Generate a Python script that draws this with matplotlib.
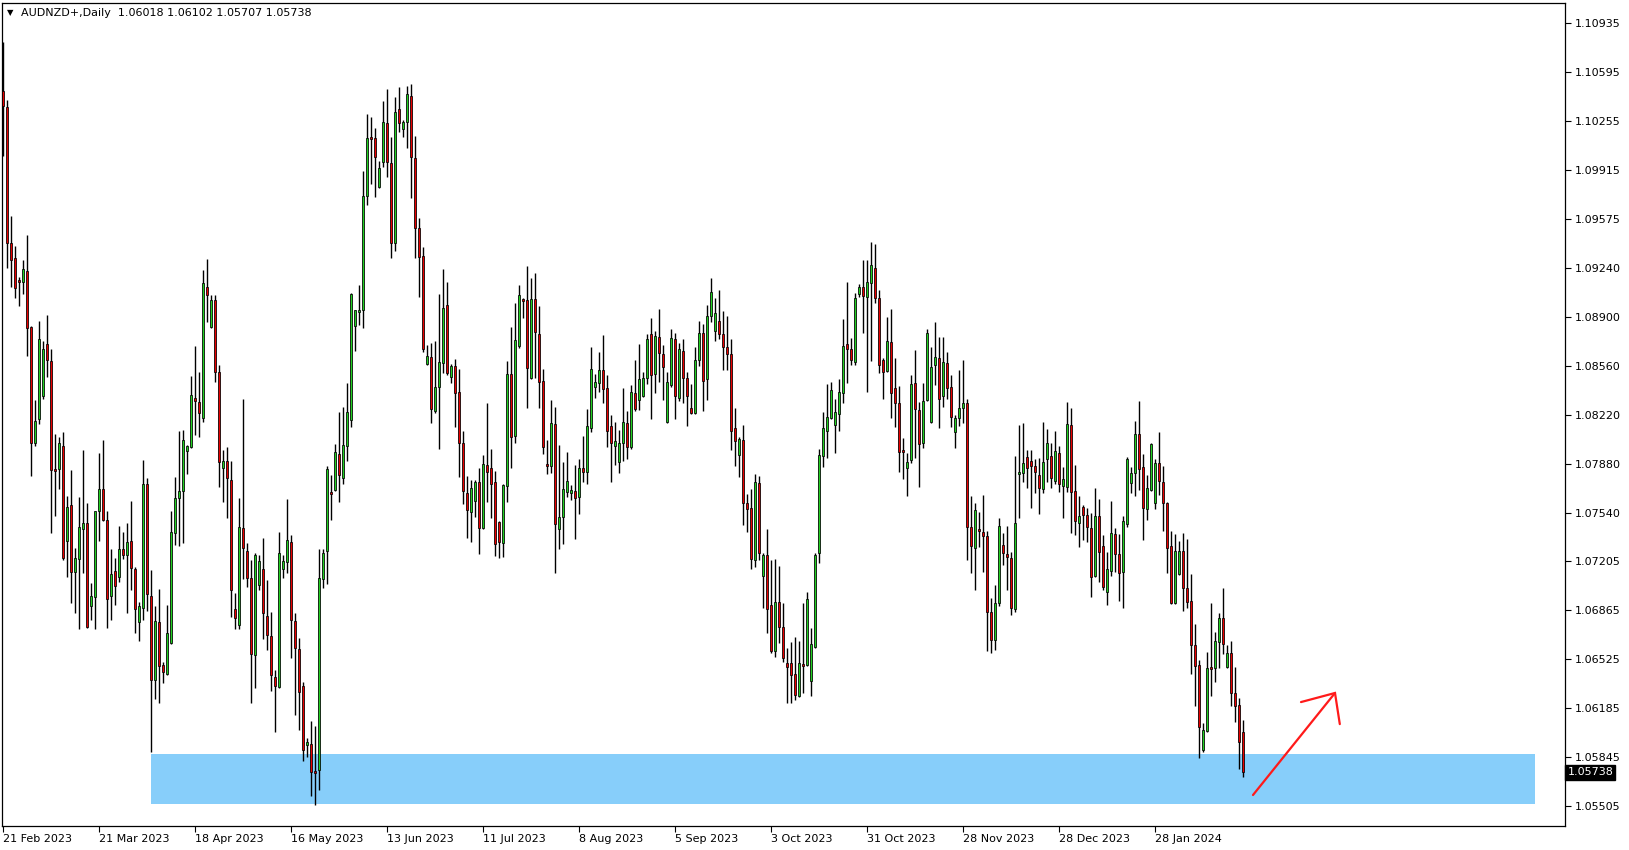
import numpy as np
import matplotlib
matplotlib.use("Agg")
import matplotlib.pyplot as plt
import matplotlib.transforms as mtransforms

# daily AUDNZD candles, 21 Feb 2023 .. mid Feb 2024
opens = [
    1.10466, 1.10355, 1.09412, 1.09307, 1.09155, 1.09141, 1.09217, 1.08829, 1.08024, 1.08190,
    1.08350, 1.08711, 1.08593, 1.07843, 1.07843, 1.08003, 1.07344, 1.07593, 1.07128, 1.07219,
    1.07427, 1.07468, 1.06892, 1.06955, 1.07552, 1.07704, 1.07489, 1.06962, 1.07135, 1.07094,
    1.07288, 1.07246, 1.07344, 1.07149, 1.06781, 1.06878, 1.07739, 1.06962, 1.06379, 1.06781,
    1.06483, 1.06420, 1.06636, 1.07399, 1.07642, 1.07691, 1.07968, 1.07996, 1.08336, 1.08308,
    1.08197, 1.09106, 1.08829, 1.09016, 1.08516, 1.07850, 1.07899, 1.07767, 1.06872, 1.06761,
    1.07434, 1.07274, 1.07087, 1.06552, 1.07038, 1.07149, 1.06823, 1.06684, 1.06400, 1.06330,
    1.07149, 1.07198, 1.07337, 1.06788, 1.06594, 1.06337, 1.05928, 1.05935, 1.05747, 1.05754,
    1.07080, 1.07274, 1.07684, 1.07697, 1.07947, 1.07781, 1.08003, 1.08183, 1.08836, 1.08933,
    1.08947, 1.09738, 1.10147, 1.10140, 1.09800, 1.09974, 1.10244, 1.09967, 1.09412, 1.10342,
    1.10203, 1.10251, 1.10432, 1.10001, 1.09516, 1.09321, 1.08572, 1.08620, 1.08246, 1.08412,
    1.08579, 1.08981, 1.08482, 1.08558, 1.08378, 1.08024, 1.07677, 1.07545, 1.07621, 1.07753,
    1.07434, 1.07871, 1.07850, 1.07753, 1.07475, 1.07330, 1.07725, 1.08502, 1.08072, 1.08697,
    1.09023, 1.09016, 1.08475, 1.09023, 1.08780, 1.08454, 1.07878, 1.07864, 1.08155, 1.07427,
    1.07510, 1.07684, 1.07677, 1.07691, 1.07649, 1.07850, 1.07822, 1.08128, 1.08412, 1.08440,
    1.08530, 1.08405, 1.08142, 1.08003, 1.07892, 1.08024, 1.08162, 1.07996, 1.08371, 1.08322,
    1.08350, 1.08475, 1.08780, 1.08502, 1.08759, 1.08641, 1.08169, 1.08426, 1.08745, 1.08336,
    1.08662, 1.08475, 1.08267, 1.08232, 1.08600, 1.08787, 1.08468, 1.08905, 1.08801, 1.08870,
    1.08780, 1.08690, 1.08641, 1.08128, 1.07940, 1.08044, 1.07607, 1.07573, 1.07212, 1.07746,
    1.07101, 1.07246, 1.06899, 1.06580, 1.06920, 1.06747, 1.06497, 1.06497, 1.06420, 1.06268,
    1.06490, 1.06483, 1.06372, 1.06608, 1.07260, 1.07933, 1.08107, 1.08197, 1.08148, 1.08225,
    1.08371, 1.08711, 1.08676, 1.08586, 1.09058, 1.09106, 1.09037, 1.09134, 1.09238, 1.09030,
    1.08600, 1.08523, 1.08724, 1.08405, 1.08301, 1.07975, 1.07850, 1.07906, 1.08440, 1.08253,
    1.08024, 1.08322, 1.08169, 1.08565, 1.08614, 1.08350, 1.08579, 1.08412, 1.08100, 1.08197,
    1.08267, 1.08301, 1.07441, 1.07295, 1.07427, 1.07406, 1.07378, 1.06851, 1.06656, 1.06913,
    1.07316, 1.07253, 1.07225, 1.06872, 1.07808, 1.07815, 1.07926, 1.07899, 1.07864, 1.07802,
    1.07704, 1.07913, 1.07933, 1.07760, 1.07954, 1.07725, 1.07718, 1.08148, 1.07691, 1.07468,
    1.07579, 1.07524, 1.07434, 1.07101, 1.07517, 1.07309, 1.06990, 1.07135, 1.07392, 1.07253,
    1.07128, 1.07461, 1.07746, 1.07815, 1.08086, 1.07857, 1.07566, 1.07697, 1.07607, 1.07885,
    1.07753, 1.07607, 1.07309, 1.06913, 1.07114, 1.07274, 1.07017, 1.06927, 1.06622, 1.06483,
    1.05893, 1.06025, 1.06469, 1.06462, 1.06643, 1.06809, 1.06469, 1.06566, 1.06289, 1.06205,
    1.06018,
]
highs = [
    1.10807, 1.10404, 1.09599, 1.09391, 1.09176, 1.09294, 1.09467, 1.08836, 1.08322, 1.08870,
    1.08731, 1.08912, 1.08676, 1.08086, 1.08065, 1.08100, 1.07656, 1.07836, 1.07295, 1.07649,
    1.07975, 1.07607, 1.07052, 1.07552, 1.07954, 1.08044, 1.07552, 1.07288, 1.07225, 1.07448,
    1.07406, 1.07468, 1.07621, 1.07163, 1.06920, 1.07906, 1.07781, 1.07142, 1.06892, 1.07010,
    1.06504, 1.06899, 1.07552, 1.07788, 1.08107, 1.08114, 1.08010, 1.08489, 1.08697, 1.08516,
    1.09224, 1.09301, 1.09051, 1.09051, 1.08565, 1.07975, 1.07996, 1.07899, 1.06983, 1.07642,
    1.08329, 1.07330, 1.07212, 1.07260, 1.07246, 1.07364, 1.07073, 1.06851, 1.06448, 1.07406,
    1.07246, 1.07635, 1.07385, 1.06844, 1.06670, 1.06365, 1.05976, 1.06094, 1.06060, 1.07288,
    1.07288, 1.07864, 1.07802, 1.08017, 1.08239, 1.08273, 1.08440, 1.09065, 1.08947, 1.09120,
    1.09911, 1.10307, 1.10286, 1.10210, 1.09981, 1.10397, 1.10480, 1.10147, 1.10425, 1.10494,
    1.10265, 1.10501, 1.10515, 1.10154, 1.09585, 1.09384, 1.08704, 1.08718, 1.08731, 1.09058,
    1.09231, 1.09141, 1.08572, 1.08607, 1.08537, 1.08107, 1.07795, 1.07767, 1.07767, 1.07850,
    1.07940, 1.08301, 1.07982, 1.07829, 1.07482, 1.07739, 1.08593, 1.08829, 1.08995, 1.09120,
    1.09030, 1.09252, 1.09169, 1.09203, 1.08974, 1.08537, 1.08044, 1.08322, 1.08273, 1.08010,
    1.07892, 1.07961, 1.07732, 1.07871, 1.07913, 1.08072, 1.08260, 1.08690, 1.08502, 1.08655,
    1.08773, 1.08496, 1.08218, 1.08169, 1.08114, 1.08405, 1.08246, 1.08426, 1.08600, 1.08711,
    1.08516, 1.08780, 1.08891, 1.08801, 1.08953, 1.08704, 1.08516, 1.08815, 1.08787, 1.08718,
    1.08745, 1.08516, 1.08433, 1.08690, 1.08870, 1.08849, 1.08981, 1.09169, 1.09030, 1.09085,
    1.08940, 1.08905, 1.08745, 1.08267, 1.08065, 1.08148, 1.07670, 1.07704, 1.07808, 1.07795,
    1.07260, 1.07427, 1.07212, 1.07219, 1.07170, 1.06913, 1.06601, 1.06643, 1.06677, 1.06650,
    1.06913, 1.06990, 1.06740, 1.07260, 1.07982, 1.08239, 1.08433, 1.08447, 1.08329, 1.08468,
    1.08884, 1.09141, 1.08752, 1.09065, 1.09127, 1.09294, 1.09294, 1.09419, 1.09405, 1.09085,
    1.08614, 1.08898, 1.08953, 1.08614, 1.08419, 1.08058, 1.07954, 1.08496, 1.08669, 1.08308,
    1.08440, 1.08815, 1.08690, 1.08863, 1.08759, 1.08759, 1.08655, 1.08496, 1.08218, 1.08530,
    1.08600, 1.08329, 1.07656, 1.07607, 1.07545, 1.07663, 1.07413, 1.06948, 1.07038, 1.07503,
    1.07399, 1.07448, 1.07267, 1.07933, 1.08148, 1.08162, 1.07975, 1.07975, 1.07913, 1.07920,
    1.08169, 1.08121, 1.08024, 1.08107, 1.08003, 1.07857, 1.08308, 1.08267, 1.07871, 1.07656,
    1.07593, 1.07572, 1.07538, 1.07711, 1.07635, 1.07385, 1.07267, 1.07621, 1.07434, 1.07392,
    1.07517, 1.07926, 1.07857, 1.08176, 1.08315, 1.07947, 1.07802, 1.08024, 1.07913, 1.08100,
    1.07864, 1.07614, 1.07413, 1.07392, 1.07344, 1.07399, 1.07357, 1.07114, 1.06767, 1.06518,
    1.06080, 1.06573, 1.06913, 1.06712, 1.06844, 1.07017, 1.06622, 1.06650, 1.06469, 1.06254,
    1.06102,
]
lows = [
    1.10015, 1.09238, 1.09106, 1.09030, 1.08974, 1.09058, 1.08627, 1.07795, 1.08003, 1.08155,
    1.08329, 1.08482, 1.07399, 1.07517, 1.07704, 1.07212, 1.07094, 1.06913, 1.06844, 1.06733,
    1.07121, 1.06740, 1.06795, 1.06733, 1.07344, 1.07482, 1.06740, 1.06795, 1.06899, 1.07059,
    1.07219, 1.06844, 1.07003, 1.06705, 1.06650, 1.06795, 1.06858, 1.05879, 1.06247, 1.06219,
    1.06358, 1.06414, 1.06629, 1.07316, 1.07309, 1.07330, 1.07808, 1.07989, 1.08079, 1.08065,
    1.08169, 1.08863, 1.08822, 1.08447, 1.07718, 1.07614, 1.07503, 1.06816, 1.06733, 1.06733,
    1.07080, 1.07024, 1.06219, 1.06323, 1.07003, 1.06663, 1.06587, 1.06303, 1.06018, 1.06323,
    1.07087, 1.07121, 1.06532, 1.06136, 1.06032, 1.05817, 1.05844, 1.05574, 1.05511, 1.05615,
    1.07017, 1.07045, 1.07489, 1.07691, 1.07614, 1.07739, 1.07899, 1.08135, 1.08662, 1.08843,
    1.08822, 1.09675, 1.09821, 1.09731, 1.09793, 1.09939, 1.09870, 1.09307, 1.09356, 1.10182,
    1.10147, 1.10071, 1.09724, 1.09307, 1.09037, 1.08655, 1.08565, 1.08162, 1.08232, 1.07982,
    1.08509, 1.08496, 1.08440, 1.08135, 1.07788, 1.07600, 1.07364, 1.07337, 1.07510, 1.07253,
    1.07427, 1.07614, 1.07503, 1.07239, 1.07225, 1.07232, 1.07614, 1.07850, 1.08024, 1.08683,
    1.08891, 1.08267, 1.08468, 1.08475, 1.08267, 1.07947, 1.07808, 1.07815, 1.07121, 1.07288,
    1.07323, 1.07649, 1.07628, 1.07357, 1.07531, 1.07753, 1.07739, 1.08100, 1.08336, 1.08378,
    1.08301, 1.07996, 1.07753, 1.07871, 1.07815, 1.07899, 1.07913, 1.07982, 1.08246, 1.08253,
    1.08343, 1.08433, 1.08190, 1.08371, 1.08447, 1.08322, 1.08162, 1.08412, 1.08190, 1.08315,
    1.08301, 1.08142, 1.08225, 1.08225, 1.08558, 1.08246, 1.08322, 1.08863, 1.08731, 1.08745,
    1.08530, 1.08530, 1.07975, 1.07864, 1.07788, 1.07455, 1.07406, 1.07149, 1.07163, 1.07212,
    1.06878, 1.06705, 1.06566, 1.06539, 1.06636, 1.06504, 1.06219, 1.06219, 1.06240, 1.06261,
    1.06289, 1.06476, 1.06268, 1.06601, 1.07191, 1.07857, 1.07920, 1.08190, 1.07954, 1.08107,
    1.08301, 1.08440, 1.08565, 1.08565, 1.09037, 1.08787, 1.08378, 1.08593, 1.08995, 1.08509,
    1.08329, 1.08516, 1.08197, 1.08135, 1.07822, 1.07774, 1.07656, 1.07885, 1.07920, 1.07718,
    1.07989, 1.08315, 1.08162, 1.08426, 1.08128, 1.08273, 1.08329, 1.08135, 1.07989, 1.08142,
    1.08162, 1.07212, 1.07121, 1.07003, 1.07302, 1.07128, 1.06580, 1.06566, 1.06587, 1.06892,
    1.07177, 1.07003, 1.06830, 1.06851, 1.07503, 1.07753, 1.07711, 1.07573, 1.07677, 1.07531,
    1.07677, 1.07753, 1.07711, 1.07739, 1.07684, 1.07503, 1.07684, 1.07399, 1.07385, 1.07302,
    1.07350, 1.07337, 1.06955, 1.07094, 1.07059, 1.07003, 1.06899, 1.07101, 1.07128, 1.06927,
    1.06878, 1.07441, 1.07677, 1.07656, 1.07697, 1.07350, 1.07489, 1.07691, 1.07566, 1.07663,
    1.07413, 1.07121, 1.06906, 1.06906, 1.07108, 1.06858, 1.06878, 1.06420, 1.06198, 1.05837,
    1.05879, 1.06018, 1.06268, 1.06365, 1.06462, 1.06559, 1.06462, 1.06198, 1.06087, 1.05761,
    1.05707,
]
closes = [
    1.10362, 1.09412, 1.09294, 1.09099, 1.09141, 1.09231, 1.08822, 1.08024, 1.08176, 1.08745,
    1.08676, 1.08600, 1.07836, 1.07829, 1.08024, 1.07225, 1.07579, 1.07128, 1.07225, 1.07441,
    1.07468, 1.06747, 1.06962, 1.07552, 1.07704, 1.07489, 1.06941, 1.07114, 1.07031, 1.07288,
    1.07246, 1.07337, 1.07156, 1.06872, 1.06892, 1.07739, 1.06976, 1.06379, 1.06788, 1.06476,
    1.06434, 1.06705, 1.07406, 1.07642, 1.07691, 1.08044, 1.08003, 1.08357, 1.08315, 1.08232,
    1.09134, 1.09051, 1.09016, 1.08516, 1.07892, 1.07899, 1.07781, 1.07003, 1.06809, 1.07441,
    1.07295, 1.07087, 1.06559, 1.07246, 1.07205, 1.06844, 1.06691, 1.06414, 1.06337, 1.07260,
    1.07205, 1.07350, 1.06795, 1.06601, 1.06296, 1.05893, 1.05948, 1.05740, 1.05733, 1.07087,
    1.07260, 1.07843, 1.07670, 1.07961, 1.07802, 1.08010, 1.08239, 1.09058, 1.08947, 1.08947,
    1.09738, 1.10140, 1.10133, 1.10008, 1.09932, 1.10251, 1.09974, 1.09412, 1.10321, 1.10244,
    1.10251, 1.10446, 1.10008, 1.09516, 1.09314, 1.08676, 1.08627, 1.08260, 1.08412, 1.08586,
    1.08960, 1.08509, 1.08558, 1.08371, 1.08024, 1.07691, 1.07559, 1.07711, 1.07753, 1.07434,
    1.07878, 1.07822, 1.07739, 1.07323, 1.07337, 1.07732, 1.08502, 1.08065, 1.08738, 1.09051,
    1.09009, 1.08544, 1.09023, 1.08794, 1.08447, 1.07996, 1.07864, 1.08162, 1.07461, 1.07510,
    1.07704, 1.07760, 1.07697, 1.07642, 1.07850, 1.07822, 1.08142, 1.08537, 1.08447, 1.08530,
    1.08398, 1.08107, 1.08024, 1.08038, 1.08024, 1.08169, 1.07996, 1.08378, 1.08260, 1.08468,
    1.08475, 1.08745, 1.08496, 1.08766, 1.08648, 1.08551, 1.08447, 1.08752, 1.08350, 1.08676,
    1.08475, 1.08350, 1.08232, 1.08600, 1.08787, 1.08454, 1.08905, 1.09072, 1.08926, 1.08780,
    1.08690, 1.08641, 1.08107, 1.08038, 1.08051, 1.07607, 1.07566, 1.07219, 1.07753, 1.07260,
    1.07246, 1.06872, 1.06580, 1.06920, 1.06747, 1.06532, 1.06469, 1.06414, 1.06275, 1.06497,
    1.06476, 1.06941, 1.06629, 1.07246, 1.07940, 1.08128, 1.08204, 1.08391, 1.08239, 1.08378,
    1.08697, 1.08676, 1.08600, 1.09030, 1.09106, 1.09044, 1.09141, 1.09259, 1.09030, 1.08565,
    1.08516, 1.08731, 1.08371, 1.08301, 1.07961, 1.07961, 1.07892, 1.08433, 1.08260, 1.08017,
    1.08315, 1.08787, 1.08551, 1.08620, 1.08329, 1.08586, 1.08405, 1.08204, 1.08197, 1.08267,
    1.08301, 1.07441, 1.07309, 1.07559, 1.07413, 1.07378, 1.06851, 1.06656, 1.06913, 1.07448,
    1.07260, 1.07232, 1.06878, 1.07468, 1.07822, 1.07885, 1.07850, 1.07864, 1.07822, 1.07711,
    1.07892, 1.08024, 1.07781, 1.07968, 1.07739, 1.07774, 1.08155, 1.07684, 1.07482, 1.07517,
    1.07524, 1.07441, 1.07094, 1.07517, 1.07267, 1.07024, 1.07149, 1.07399, 1.07253, 1.07121,
    1.07482, 1.07913, 1.07815, 1.08086, 1.07843, 1.07573, 1.07711, 1.08017, 1.07885, 1.07760,
    1.07607, 1.07295, 1.06913, 1.07274, 1.07274, 1.07017, 1.06920, 1.06622, 1.06476, 1.06053,
    1.06032, 1.06462, 1.06455, 1.06650, 1.06809, 1.06629, 1.06566, 1.06289, 1.06198, 1.05948,
    1.05738,
]

date_labels = ["21 Feb 2023", "21 Mar 2023", "18 Apr 2023", "16 May 2023", "13 Jun 2023",
               "11 Jul 2023", "8 Aug 2023", "5 Sep 2023", "3 Oct 2023", "31 Oct 2023",
               "28 Nov 2023", "28 Dec 2023", "28 Jan 2024"]
label_step = 24   # bars between date labels
price_ticks = [1.10935, 1.10595, 1.10255, 1.09915, 1.09575, 1.09240, 1.08900, 1.08560,
               1.08220, 1.07880, 1.07540, 1.07205, 1.06865, 1.06525, 1.06185, 1.05845, 1.05505]

# support zone (bar index range, price range) and the red arrow (bar, price)
zone_x = [37, 383]
zone_y = [1.05518, 1.05865]
arrow_shaft_x = [312.5, 333.0]
arrow_shaft_y = [1.05581, 1.06289]
arrow_wing_x = [324.5, 333.0, 334.2]
arrow_wing_y = [1.06226, 1.06289, 1.06073]

title = "AUDNZD+,Daily  1.06018 1.06102 1.05707 1.05738"

bull = "#22d022"
bear = "#e80000"

o = np.array(opens)
h = np.array(highs)
l = np.array(lows)
c = np.array(closes)
x = np.arange(len(o))

W, H = 1629, 850
fig = plt.figure(figsize=(W / 100, H / 100), dpi=100)
ax = fig.add_axes([2 / W, 24 / H, 1563 / W, 823 / H])
ax.set_xlim(-0.25, 390.5)
ax.set_ylim(1.05366, 1.11077)

# zone behind candles
ax.fill_between(zone_x, zone_y[0], zone_y[1], color="#87cefa", linewidth=0, zorder=1)

# candles
ax.vlines(x, l, h, colors="black", linewidth=1.0, zorder=2)
body_lo = np.minimum(o, c)
body_h = np.maximum(np.abs(c - o), 0.00001)
cols = [bull if cc >= oo else bear for oo, cc in zip(o, c)]
ax.bar(x, body_h, bottom=body_lo, width=0.74, color=cols, edgecolor="black",
       linewidth=0.55, zorder=3)

# arrow
ax.plot(arrow_shaft_x, arrow_shaft_y, color="#ff1a1a", linewidth=1.6, zorder=4,
        solid_capstyle="round")
ax.plot(arrow_wing_x, arrow_wing_y, color="#ff1a1a", linewidth=1.6, zorder=4,
        solid_capstyle="round", solid_joinstyle="miter")

# axes look
for sp in ax.spines.values():
    sp.set_linewidth(0.9)
    sp.set_color("black")

ax.yaxis.tick_right()
ax.set_yticks(price_ticks)
ax.set_yticklabels([f"{p:.5f}" for p in price_ticks])
ax.tick_params(axis="y", direction="out", length=4, width=0.8, pad=3, labelsize=8)

ax.set_xticks([i * label_step for i in range(len(date_labels))])
ax.set_xticklabels(date_labels)
for lbl in ax.get_xticklabels():
    lbl.set_horizontalalignment("left")
ax.tick_params(axis="x", direction="out", length=4, width=0.8, pad=2, labelsize=8)

# last price box on the price scale
trans = mtransforms.blended_transform_factory(ax.transAxes, ax.transData)
ax.text(1.0015, closes[-1], f"{closes[-1]:.5f}", transform=trans, fontsize=8,
        color="white", ha="left", va="center",
        bbox=dict(boxstyle="square,pad=0.2", facecolor="black", edgecolor="black"))

# top-left caption
fig.text(7 / W, 1 - 12.5 / H, "\u25bc", fontsize=6, va="center", ha="left")
fig.text(21 / W, 1 - 12.5 / H, title, fontsize=8, va="center", ha="left")

fig.savefig("out.png", dpi=100, facecolor="white")
